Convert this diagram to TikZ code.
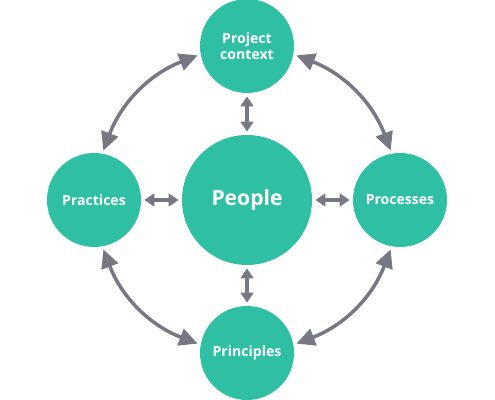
\documentclass[tikz,border=0pt]{standalone}
\usepackage{fontspec}
\setmainfont{Open Sans}
\usetikzlibrary{arrows.meta}
\definecolor{bubblegreen}{HTML}{2FC0A4}
\definecolor{arrowgrey}{HTML}{767883}
\tikzset{
	bubble/.style={circle, fill=bubblegreen, text=white, align=center,
		inner sep=0pt, outer sep=0pt, minimum size=2.82cm,
		font=\bfseries\fontsize{12}{13.6}\selectfont},
	bigarrow/.style={draw=arrowgrey, line width=3pt,
		{Triangle[length=0.55cm,width=0.52cm]}-{Triangle[length=0.55cm,width=0.52cm]},
		shorten <=0.1cm, shorten >=0.1cm},
	smallarrow/.style={draw=arrowgrey, line width=3.2pt,
		{Triangle[length=0.3cm,width=0.38cm]}-{Triangle[length=0.3cm,width=0.38cm]},
		shorten <=0.1cm, shorten >=0.1cm}
}

\begin{document}
\begin{tikzpicture}[x=0.03cm, y=0.03cm]
			\useasboundingbox (0,0) rectangle (495,400);
			\node[bubble, minimum size=3.9cm, font=\bfseries\fontsize{18}{20}\selectfont] (people) at (247,200) {People};
			\node[bubble] (context) at (247,354) {Project\\context};
			\node[bubble] (practices) at (94,200) {Practices};
			\node[bubble] (processes) at (400,200) {Processes};
			\node[bubble] (principles) at (247,47) {Principles};
			\draw[smallarrow] (people) -- (context);
			\draw[smallarrow] (people) -- (practices);
			\draw[smallarrow] (people) -- (processes);
			\draw[smallarrow] (people) -- (principles);
			\draw[bigarrow] (practices.80) to[bend left=24] (context.190);
			\draw[bigarrow] (context.350) to[bend left=24] (processes.100);
			\draw[bigarrow] (processes.260) to[bend left=24] (principles.10);
			\draw[bigarrow] (principles.170) to[bend left=24] (practices.280);
			\end{tikzpicture}
\end{document}
